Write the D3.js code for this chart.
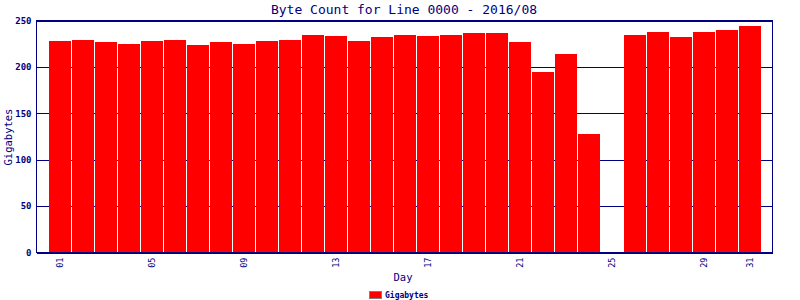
<!DOCTYPE html>
<html>
<head>
<meta charset="utf-8">
<script src="https://cdn.jsdelivr.net/npm/d3@7"></script>
<style>
  body { margin: 0; background: #fff; }
  text { font-family: "DejaVu Sans Mono", monospace; fill: #000080; }
</style>
</head>
<body>
<svg id="chart" width="800" height="300"></svg>
<script>
const days = ['01','02','03','04','05','06','07','08','09','10','11','12','13','14','15','16',
    '17','18','19','20','21','22','23','24','25','26','27','28','29','30','31'];
const gigabytes = [227.4, 229.5, 226.3, 225.2, 227.4, 229.5, 224.1, 226.3, 225.2, 228.4, 229.5,
    234.9, 232.8, 228.4, 231.7, 234.9, 232.8, 234.9, 236, 236, 226.3, 195, 213.4, 127.5, null,
    234.9, 237.1, 231.7, 238.1, 240.3, 244.6];
const xTickLabels = ['01','05','09','13','17','21','25','29','31'];
const yTicks = [0, 50, 100, 150, 200, 250];

const navy = '#000080';
const plot = {left: 36.5, right: 772.5, top: 20.5, bottom: 252.5};

const svg = d3.select('#chart');

const x = d3.scaleBand().domain(days).range([49, 762]).padding(0);
const y = d3.scaleLinear().domain([0, 250]).range([plot.bottom, plot.top]);

// grid
const gridG = svg.append('g').attr('transform', `translate(${plot.left},0)`);
gridG.call(d3.axisLeft(y).tickValues(yTicks).tickSize(-(plot.right - plot.left)).tickFormat(''))
    .call(g => g.select('.domain').remove())
    .selectAll('line').attr('stroke', navy).attr('stroke-width', 1)
    .attr('shape-rendering', 'crispEdges');

// bars
svg.append('g').selectAll('rect')
    .data(days.map((d, i) => ({day: d, v: gigabytes[i]})).filter(d => d.v != null))
    .enter().append('rect')
    .attr('x', d => x(d.day))
    .attr('width', x.bandwidth() - 1)
    .attr('y', d => Math.round(y(d.v)))
    .attr('height', d => Math.round(y(0)) - Math.round(y(d.v)))
    .attr('fill', '#ff0000')
    .attr('shape-rendering', 'crispEdges');

// frame
svg.append('rect')
    .attr('x', plot.left).attr('y', plot.top)
    .attr('width', plot.right - plot.left).attr('height', plot.bottom - plot.top)
    .attr('fill', 'none').attr('stroke', navy).attr('stroke-width', 1)
    .attr('shape-rendering', 'crispEdges');

// y axis labels
const yAxis = svg.append('g').attr('transform', `translate(${plot.left},0)`);
yAxis.call(d3.axisLeft(y).tickValues(yTicks).tickSize(0).tickPadding(5))
    .call(g => g.select('.domain').remove())
    .selectAll('text')
    .style('font-size', '9px').style('font-weight', 'bold').attr('fill', navy);

// x axis labels
const xAxis = svg.append('g').attr('transform', `translate(0,${plot.bottom})`);
xAxis.call(d3.axisBottom(x).tickValues(xTickLabels).tickSize(0))
    .call(g => g.select('.domain').remove())
    .selectAll('text')
    .attr('transform', 'rotate(-90)')
    .attr('x', -5).attr('y', 0).attr('dy', '0.32em')
    .style('text-anchor', 'end')
    .style('font-size', '8.5px').attr('fill', navy);

// title
svg.append('text').attr('x', 404).attr('y', 14)
    .attr('text-anchor', 'middle').style('font-size', '13px')
    .text('Byte Count for Line 0000 - 2016/08');

// axis titles
svg.append('text').attr('x', 403).attr('y', 281)
    .attr('text-anchor', 'middle').style('font-size', '10.5px')
    .text('Day');
svg.append('text').attr('transform', 'translate(12,137) rotate(-90)')
    .attr('text-anchor', 'middle').style('font-size', '10.5px')
    .text('Gigabytes');

// legend
svg.append('rect').attr('x', 369.5).attr('y', 291.5).attr('width', 12).attr('height', 7)
    .attr('fill', '#ff0000').attr('stroke', '#808080');
svg.append('text').attr('x', 385).attr('y', 298)
    .style('font-size', '8px').style('font-weight', 'bold')
    .text('Gigabytes');
</script>
</body>
</html>
